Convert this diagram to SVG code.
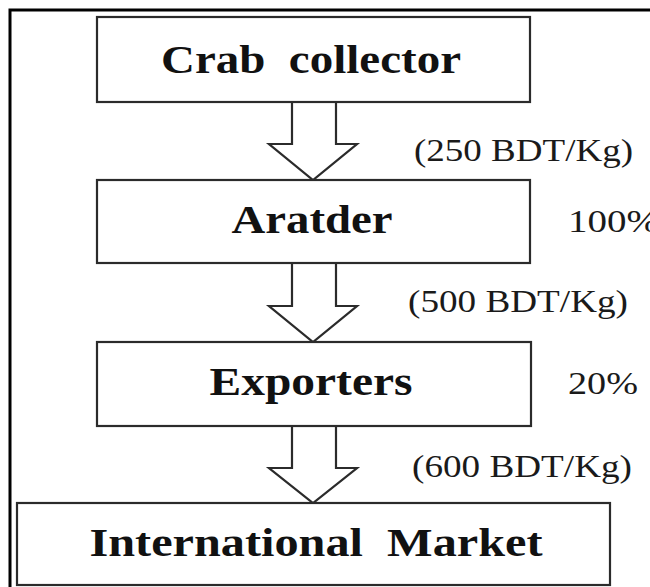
<svg xmlns="http://www.w3.org/2000/svg" width="650" height="587" viewBox="0 0 650 587" xml:space="preserve">
<style>
.box{fill:#fff;stroke:#2b2b2b;stroke-width:2.2}
.arrow{fill:#fff;stroke:#2b2b2b;stroke-width:2.2;stroke-linejoin:miter}
.t{font-family:"Liberation Serif","Times New Roman",serif;font-weight:bold;font-size:39px;fill:#111;text-anchor:middle;white-space:pre}
.l{font-family:"Liberation Serif","Times New Roman",serif;font-size:31px;fill:#1a1a1a}
</style>
<rect x="0" y="0" width="650" height="587" fill="#fff"/>
<rect x="10" y="10" width="660" height="600" fill="none" stroke="#000" stroke-width="3"/>
<g id="connectors">
<path class="arrow" d="M292,102 V144 H269 L313,180 L357,144 H336 V102"/>
<path class="arrow" d="M292,263 V306 H269 L313,342 L357,306 H336 V263"/>
<path class="arrow" d="M292,426 V468 H269 L313,503 L357,468 H336 V426"/>
<text class="l" x="414" y="161" textLength="219" lengthAdjust="spacingAndGlyphs">(250 BDT/Kg)</text>
<text class="l" x="408" y="312" textLength="220" lengthAdjust="spacingAndGlyphs">(500 BDT/Kg)</text>
<text class="l" x="412" y="477" textLength="220" lengthAdjust="spacingAndGlyphs">(600 BDT/Kg)</text>
</g>
<g id="crab-collector">
<rect class="box" x="97" y="17" width="433" height="85"/>
<text class="t" x="311" y="73" textLength="300" lengthAdjust="spacingAndGlyphs">Crab  collector</text>
</g>
<g id="aratder">
<rect class="box" x="97" y="180" width="433" height="83"/>
<text class="t" x="312" y="233" textLength="161" lengthAdjust="spacingAndGlyphs">Aratder</text>
<text class="l" x="568" y="232" textLength="91" lengthAdjust="spacingAndGlyphs">100%</text>
</g>
<g id="exporters">
<rect class="box" x="97" y="342" width="434" height="84"/>
<text class="t" x="311" y="395" textLength="203" lengthAdjust="spacingAndGlyphs">Exporters</text>
<text class="l" x="568" y="394" textLength="70" lengthAdjust="spacingAndGlyphs">20%</text>
</g>
<g id="international-market">
<rect class="box" x="17" y="503" width="593" height="82"/>
<text class="t" x="316" y="556" textLength="453" lengthAdjust="spacingAndGlyphs">International  Market</text>
</g>
</svg>
